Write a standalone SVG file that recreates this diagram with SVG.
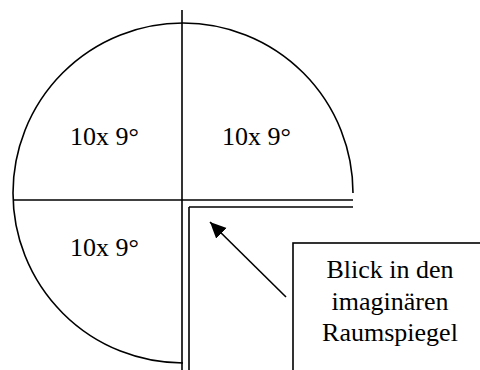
<svg xmlns="http://www.w3.org/2000/svg" width="480" height="370" viewBox="0 0 480 370">
<style>
.ln{stroke:#000;stroke-width:1.6;fill:none}
.t{font-family:"Liberation Serif","Times New Roman",serif;font-size:26px;fill:#000}
</style>
<defs>
<marker id="ah" markerUnits="userSpaceOnUse" markerWidth="18" markerHeight="16" refX="16" refY="7.5" orient="auto">
<path d="M0,0 L16,7.5 L0,15 Z" fill="#000"/>
</marker>
</defs>
<rect width="480" height="370" fill="#fff"/>
<g id="shape">
<path class="ln" d="M353,193 A170,170 0 1 0 183,363"/>
<line class="ln" x1="182" y1="10" x2="182" y2="370"/>
<line class="ln" x1="189" y1="207" x2="189" y2="370"/>
<line class="ln" x1="13" y1="200" x2="353" y2="200"/>
<line class="ln" x1="189" y1="207" x2="353" y2="207"/>
</g>
<g id="q1"><text class="t" x="70" y="145">10x 9°</text></g>
<g id="q2"><text class="t" x="222" y="145">10x 9°</text></g>
<g id="q3"><text class="t" x="70" y="256">10x 9°</text></g>
<g id="note">
<rect class="ln" x="293" y="243" width="220" height="160"/>
<text class="t" text-anchor="middle"><tspan x="390" y="278">Blick in den</tspan><tspan x="390" y="310">imaginären</tspan><tspan x="390" y="341">Raumspiegel</tspan></text>
</g>
<g id="connectors">
<line class="ln" x1="286" y1="297" x2="210" y2="222" marker-end="url(#ah)"/>
</g>
</svg>
